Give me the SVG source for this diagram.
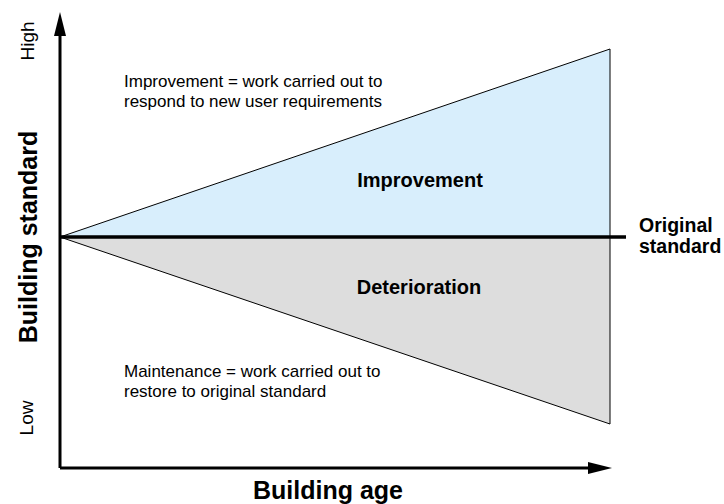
<svg xmlns="http://www.w3.org/2000/svg" width="724" height="504" viewBox="0 0 724 504">
  <style>
    .txt { font-family: "Liberation Sans", Arial, sans-serif; fill: #000; }
    .note { font-size: 17px; }
    .lvl { font-size: 19px; }
    .zone { font-size: 20px; font-weight: bold; }
    .axis-title { font-size: 25px; font-weight: bold; }
    .side { font-size: 19.5px; font-weight: bold; }
    .area { stroke: #000; stroke-width: 1; stroke-linejoin: miter; }
    .axis { stroke: #000; stroke-width: 3; fill: none; }
  </style>
  <defs>
    <marker id="arrowhead" markerWidth="8" markerHeight="4" refX="0" refY="2" orient="auto" markerUnits="strokeWidth">
      <path d="M0,0 L8,2 L0,4 Z" fill="#000"/>
    </marker>
  </defs>

  <!-- areas above and below the original standard -->
  <g id="improvement-area">
    <polygon class="area" points="60,237 610,49 610,237" fill="#d8eefc"/>
    <text class="txt zone" x="420" y="187" text-anchor="middle">Improvement</text>
  </g>
  <g id="deterioration-area">
    <polygon class="area" points="60,237 610,424 610,237" fill="#dddddd"/>
    <text class="txt zone" x="419" y="294" text-anchor="middle">Deterioration</text>
  </g>

  <!-- axes and baseline -->
  <g id="connectors">
    <line class="axis" x1="60" y1="468" x2="60" y2="36" marker-end="url(#arrowhead)"/>
    <line class="axis" x1="60" y1="468" x2="588" y2="468" marker-end="url(#arrowhead)"/>
    <line x1="60" y1="237" x2="626" y2="237" stroke="#000" stroke-width="3.5"/>
  </g>

  <g id="original-standard">
    <text class="txt side" x="639" y="232">Original</text>
    <text class="txt side" x="639" y="253">standard</text>
  </g>

  <g id="improvement-note">
    <text class="txt note" x="124" y="87">Improvement = work carried out to</text>
    <text class="txt note" x="124" y="107">respond to new user requirements</text>
  </g>

  <g id="maintenance-note">
    <text class="txt note" x="124" y="377">Maintenance = work carried out to</text>
    <text class="txt note" x="124" y="397">restore to original standard</text>
  </g>

  <g id="y-axis-labels">
    <text class="txt lvl" transform="translate(34,41) rotate(-90)" text-anchor="middle">High</text>
    <text class="txt axis-title" transform="translate(37,237) rotate(-90)" text-anchor="middle">Building standard</text>
    <text class="txt lvl" transform="translate(33,418) rotate(-90)" text-anchor="middle">Low</text>
  </g>

  <g id="x-axis-label">
    <text class="txt axis-title" x="328" y="499" text-anchor="middle">Building age</text>
  </g>
</svg>
